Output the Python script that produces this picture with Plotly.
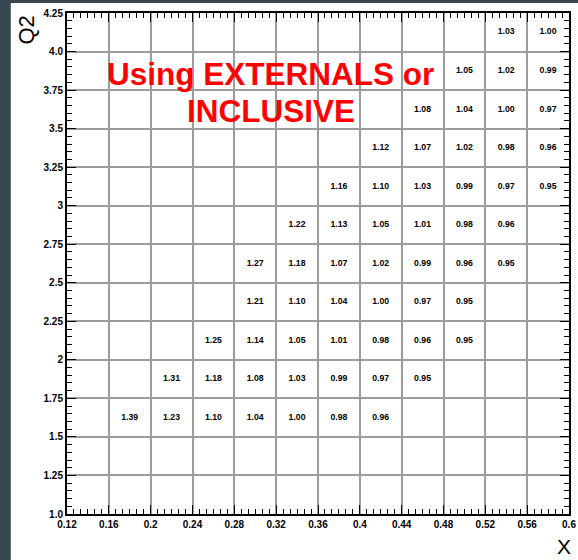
import plotly.graph_objects as go

# ---- data ----
x_bin_low = [0.12, 0.16, 0.20, 0.24, 0.28, 0.32, 0.36, 0.40, 0.44, 0.48, 0.52, 0.56]
x_bin_width = 0.04
q2_bin_low = [1.0, 1.25, 1.5, 1.75, 2.0, 2.25, 2.5, 2.75, 3.0, 3.25, 3.5, 3.75, 4.0]
q2_bin_width = 0.25
N = None
# one row per Q2 bin (low to high), one column per x bin
ratio_q2_100 = [N, N, N, N, N, N, N, N, N, N, N, N]
ratio_q2_125 = [N, N, N, N, N, N, N, N, N, N, N, N]
ratio_q2_150 = [N, 1.39, 1.23, 1.10, 1.04, 1.00, 0.98, 0.96, N, N, N, N]
ratio_q2_175 = [N, N, 1.31, 1.18, 1.08, 1.03, 0.99, 0.97, 0.95, N, N, N]
ratio_q2_200 = [N, N, N, 1.25, 1.14, 1.05, 1.01, 0.98, 0.96, 0.95, N, N]
ratio_q2_225 = [N, N, N, N, 1.21, 1.10, 1.04, 1.00, 0.97, 0.95, N, N]
ratio_q2_250 = [N, N, N, N, 1.27, 1.18, 1.07, 1.02, 0.99, 0.96, 0.95, N]
ratio_q2_275 = [N, N, N, N, N, 1.22, 1.13, 1.05, 1.01, 0.98, 0.96, N]
ratio_q2_300 = [N, N, N, N, N, N, 1.16, 1.10, 1.03, 0.99, 0.97, 0.95]
ratio_q2_325 = [N, N, N, N, N, N, N, 1.12, 1.07, 1.02, 0.98, 0.96]
ratio_q2_350 = [N, N, N, N, N, N, N, N, 1.08, 1.04, 1.00, 0.97]
ratio_q2_375 = [N, N, N, N, N, N, N, N, N, 1.05, 1.02, 0.99]
ratio_q2_400 = [N, N, N, N, N, N, N, N, N, N, 1.03, 1.00]
ratio_rows = [ratio_q2_100, ratio_q2_125, ratio_q2_150, ratio_q2_175, ratio_q2_200,
              ratio_q2_225, ratio_q2_250, ratio_q2_275, ratio_q2_300, ratio_q2_325,
              ratio_q2_350, ratio_q2_375, ratio_q2_400]

x_tick_vals = [0.12, 0.16, 0.20, 0.24, 0.28, 0.32, 0.36, 0.40, 0.44, 0.48, 0.52, 0.56, 0.60]
x_tick_text = ["0.12", "0.16", "0.2", "0.24", "0.28", "0.32", "0.36", "0.4", "0.44",
               "0.48", "0.52", "0.56", "0.6"]
y_tick_vals = [1.0, 1.25, 1.5, 1.75, 2.0, 2.25, 2.5, 2.75, 3.0, 3.25, 3.5, 3.75, 4.0, 4.25]
y_tick_text = ["1.0", "1.25", "1.5", "1.75", "2", "2.25", "2.5", "2.75", "3", "3.25",
               "3.5", "3.75", "4.0", "4.25"]

# ---- build text marks ----
xs, ys, ts = [], [], []
for qi, row in enumerate(ratio_rows):
    for xi, v in enumerate(row):
        if v is None:
            continue
        xs.append(x_bin_low[xi] + x_bin_width / 2)
        ys.append(q2_bin_low[qi] + q2_bin_width / 2)
        ts.append(f"{v:.2f}")

FONT = "Liberation Sans, Arial, Helvetica, sans-serif"

fig = go.Figure()
fig.add_trace(go.Scatter(
    x=xs, y=ys, text=ts, mode="text",
    textfont=dict(family=FONT, size=8.7, color="black", weight="bold"),
    hoverinfo="skip", showlegend=False,
))

W, H = 578, 560
L, R, T, B = 67, 2, 13, 46
pw, ph = W - L - R, H - T - B

def px(xp):
    return (xp - L) / pw

def py(yp):
    return (H - B - yp) / ph

axis_common = dict(
    showline=True, linecolor="black", linewidth=2, mirror="allticks",
    ticks="inside", ticklen=9, tickwidth=1, tickcolor="black",
    showgrid=True, gridcolor="#9c9c9c", gridwidth=1.5,
    zeroline=False, ticklabeloverflow="allow",
    tickfont=dict(family=FONT, size=10, color="black", weight="bold"),
)

fig.update_xaxes(
    range=[0.12, 0.60], tickmode="array", tickvals=x_tick_vals, ticktext=x_tick_text,
    minor=dict(ticks="inside", ticklen=5, tickcolor="black", dtick=0.04 / 6, tick0=0.12,
               showgrid=False),
    **axis_common,
)
fig.update_yaxes(
    range=[1.0, 4.25], tickmode="array", tickvals=y_tick_vals, ticktext=y_tick_text,
    minor=dict(ticks="inside", ticklen=5, tickcolor="black", dtick=0.05, tick0=1.0,
               showgrid=False),
    **axis_common,
)

fig.update_layout(
    width=W, height=H,
    margin=dict(l=L, r=R, t=T, b=B, pad=0),
    paper_bgcolor="#37474f",
    plot_bgcolor="white",
    shapes=[dict(type="rect", xref="paper", yref="paper",
                 x0=px(10), x1=px(600), y0=py(600), y1=py(3),
                 fillcolor="white", line=dict(width=0), layer="below")],
    annotations=[
        dict(text="Q2", xref="paper", yref="paper", x=px(25), y=py(30),
             textangle=-90, showarrow=False, xanchor="center", yanchor="middle",
             font=dict(family=FONT, size=22, color="black")),
        dict(text="X", xref="paper", yref="paper", x=px(571), y=py(546),
             showarrow=False, xanchor="center", yanchor="middle",
             font=dict(family=FONT, size=21, color="black")),
        dict(text="Using EXTERNALS or", xref="paper", yref="paper", x=px(273.5), y=py(74),
             showarrow=False, xanchor="center", yanchor="middle",
             font=dict(family=FONT, size=31.5, color="#ff0000", weight="bold")),
        dict(text="INCLUSIVE", xref="paper", yref="paper", x=px(274), y=py(111.5),
             showarrow=False, xanchor="center", yanchor="middle",
             font=dict(family=FONT, size=31.5, color="#ff0000", weight="bold")),
    ],
)

fig.write_html(
    "out.html",
    config={"displayModeBar": False},
    post_script="document.body.style.margin='0px';document.body.style.overflow='hidden';",
)
